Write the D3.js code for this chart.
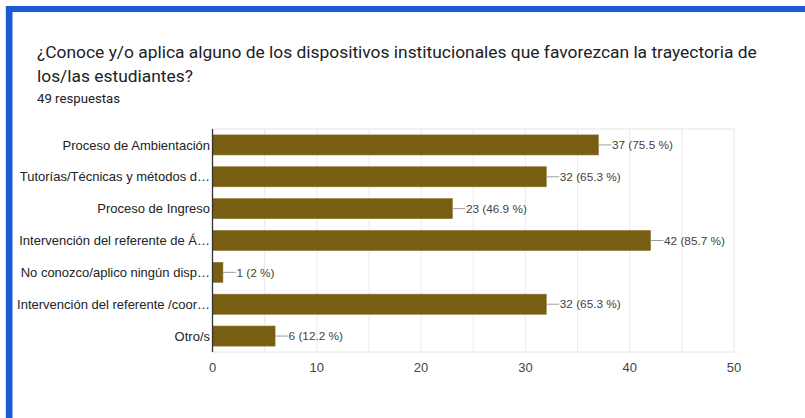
<!DOCTYPE html>
<html><head><meta charset="utf-8">
<script src="https://cdn.jsdelivr.net/npm/d3@7"></script>
<style>
html,body{margin:0;padding:0;background:#fff;}
svg{display:block;}
</style></head>
<body>
<svg id="c" width="805" height="418"></svg>
<script>
const titleLines = ["¿Conoce y/o aplica alguno de los dispositivos institucionales que favorezcan la trayectoria de", "los/las estudiantes?"];
const subtitle = "49 respuestas";
const categories = ["Proceso de Ambientación", "Tutorías/Técnicas y métodos d…", "Proceso de Ingreso", "Intervención del referente de Á…", "No conozco/aplico ningún disp…", "Intervención del referente /coor…", "Otro/s"];
const counts = [37, 32, 23, 42, 1, 32, 6];
const percents = ["75.5", "65.3", "46.9", "85.7", "2", "65.3", "12.2"];
const xTicks = [0, 10, 20, 30, 40, 50];
const gridTicks = [5, 10, 15, 20, 25, 30, 35, 40, 45];

const svg = d3.select("#c");
// card border
svg.append("rect").attr("x",5).attr("y",6).attr("width",1).attr("height",412).attr("fill","#dadce0");
svg.append("rect").attr("x",6).attr("y",6).attr("width",799).attr("height",6).attr("fill","#1a5ad2");
svg.append("rect").attr("x",6).attr("y",6).attr("width",6.5).attr("height",412).attr("fill","#1a5ad2");

// title
const tf = "Roboto, Arial, sans-serif";
svg.selectAll("text.title").data(titleLines).join("text").attr("class","title")
  .attr("x",37).attr("y",(d,i)=>58+i*23.5)
  .attr("font-family",tf).attr("font-size",17.4).attr("fill","#202124").text(d=>d);
svg.append("text").attr("x",37).attr("y",103).attr("font-family",tf).attr("font-size",13.2)
  .attr("fill","#202124").text(subtitle);

const x = d3.scaleLinear().domain([0,50]).range([212.5,734]);
const y = d3.scaleBand().domain(categories).range([129,352]).paddingInner(0.37).paddingOuter(0.185);

const g = svg.append("g");
// gridlines
g.selectAll("line.grid").data(gridTicks).join("line")
  .attr("x1",d=>x(d)).attr("x2",d=>x(d)).attr("y1",129).attr("y2",352)
  .attr("stroke","#ebebeb").attr("stroke-width",1);
// frame
g.append("rect").attr("x",x(0)).attr("y",129).attr("width",x(50)-x(0)).attr("height",223)
  .attr("fill","none").attr("stroke","#e6e6e6").attr("stroke-width",1);

// bars
g.selectAll("rect.bar").data(counts).join("rect").attr("class","bar")
  .attr("x",x(0)).attr("y",(d,i)=>y(categories[i]))
  .attr("width",d=>x(d)-x(0)).attr("height",y.bandwidth())
  .attr("fill","#775e12").attr("stroke","#8a7433").attr("stroke-width",0.6);

// leader lines
g.selectAll("line.lead").data(counts).join("line")
  .attr("x1",d=>x(d)).attr("x2",d=>x(d)+13)
  .attr("y1",(d,i)=>y(categories[i])+y.bandwidth()/2).attr("y2",(d,i)=>y(categories[i])+y.bandwidth()/2)
  .attr("stroke","#9e9e9e").attr("stroke-width",1);
const lf = "Arial, 'Liberation Sans', sans-serif";
g.selectAll("text.val").data(counts).join("text")
  .attr("x",d=>x(d)+13.5).attr("y",(d,i)=>y(categories[i])+y.bandwidth()/2)
  .attr("dy","0.36em").attr("font-family",lf).attr("font-size",11.8).attr("fill","#444")
  .text((d,i)=>`${d} (${percents[i]} %)`);

// category axis
g.append("line").attr("x1",x(0)).attr("x2",x(0)).attr("y1",129).attr("y2",352)
  .attr("stroke","#333").attr("stroke-width",1.3);
g.selectAll("text.cat").data(categories).join("text")
  .attr("x",210).attr("y",d=>y(d)+y.bandwidth()/2).attr("dy","0.36em")
  .attr("text-anchor","end").attr("font-family",lf).attr("font-size",13).attr("fill","#222")
  .text(d=>d);

// x tick labels
g.selectAll("text.tick").data(xTicks).join("text")
  .attr("x",d=>x(d)).attr("y",367).attr("dy","0.36em").attr("text-anchor","middle")
  .attr("font-family",lf).attr("font-size",13).attr("fill","#444").text(d=>d);
</script>
</body></html>
